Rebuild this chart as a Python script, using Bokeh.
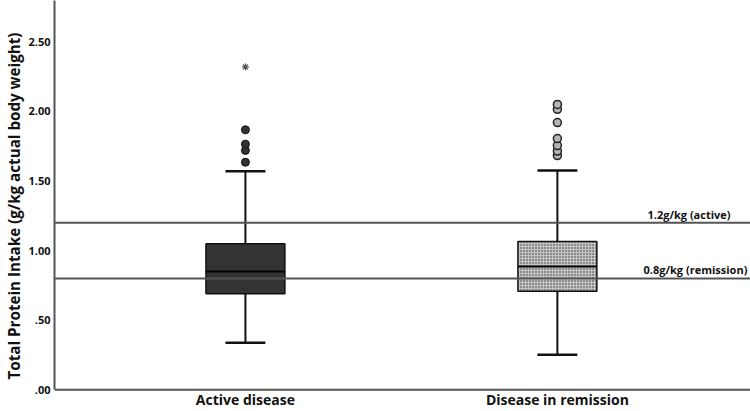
from bokeh.plotting import figure
from bokeh.models import Range1d, FixedTicker, Span
from bokeh.core.properties import value
from bokeh.embed import file_html
from bokeh.resources import INLINE

# ---- data ----
categories = ["Active disease", "Disease in remission"]
positions = [1, 2]
q1 = [0.69, 0.708]
medians = [0.85, 0.886]
q3 = [1.049, 1.066]
lower_whisker = [0.338, 0.251]
upper_whisker = [1.57, 1.575]
outliers_active = [1.635, 1.72, 1.765, 1.868]
extremes_active = [2.32]
outliers_remission = [1.683, 1.715, 1.755, 1.805, 1.92, 2.015, 2.05]
y_ticks = [0, 0.5, 1.0, 1.5, 2.0, 2.5]
y_tick_labels = [".00", ".50", "1.00", "1.50", "2.00", "2.50"]
ref_values = [1.2, 0.8]
ref_labels = ["1.2g/kg (active)", "0.8g/kg (remission)"]

FONT = "Open Sans"
BOX_W = 0.253
CAP_W = 0.128
Y_TOP = 2.797
Y_BOTTOM = -0.156

p = figure(width=750, height=411, output_backend="svg", toolbar_location=None,
           x_axis_location=None,
           x_range=Range1d(0.388, 2.619), y_range=Range1d(Y_BOTTOM, Y_TOP),
           min_border_left=54, min_border_right=0, min_border_top=0, min_border_bottom=0)
p.outline_line_color = None
p.xgrid.visible = False
p.ygrid.visible = False
p.background_fill_color = "white"

# boxes
p.vbar(x=[positions[0]], top=[q3[0]], bottom=[q1[0]], width=BOX_W,
       fill_color="#333333", line_color="#111111", line_width=1.5)
p.vbar(x=[positions[1]], top=[q3[1]], bottom=[q1[1]], width=BOX_W,
       fill_color="#c4c4c4", line_color="#111111", line_width=1.5,
       hatch_pattern="dot", hatch_scale=3, hatch_color="#333333", hatch_weight=1.5)

# medians
p.segment(x0=[x - BOX_W / 2 for x in positions], y0=medians,
          x1=[x + BOX_W / 2 for x in positions], y1=medians,
          line_color="#000000", line_width=2)

# whiskers
p.segment(x0=positions, y0=q3, x1=positions, y1=upper_whisker, line_color="#111111", line_width=2)
p.segment(x0=positions, y0=q1, x1=positions, y1=lower_whisker, line_color="#111111", line_width=2)
p.segment(x0=[x - CAP_W / 2 for x in positions], y0=upper_whisker,
          x1=[x + CAP_W / 2 for x in positions], y1=upper_whisker, line_color="#111111", line_width=2.5)
p.segment(x0=[x - CAP_W / 2 for x in positions], y0=lower_whisker,
          x1=[x + CAP_W / 2 for x in positions], y1=lower_whisker, line_color="#111111", line_width=2.5)

# reference lines and x baseline
for v in ref_values:
    p.add_layout(Span(location=v, dimension="width", line_color="#555555", line_width=2))
p.add_layout(Span(location=0, dimension="width", line_color="#555555", line_width=2))

# outliers
p.scatter(x=[positions[0]] * len(outliers_active), y=outliers_active, size=8,
          fill_color="#333333", line_color="#111111", line_width=1)
p.scatter(x=[positions[1]] * len(outliers_remission), y=outliers_remission, size=8,
          fill_color="#b5b5b5", line_color="#222222", line_width=1.5)
p.scatter(x=[positions[0]] * len(extremes_active), y=extremes_active, size=7,
          marker="asterisk", line_color="#555555", line_width=1.2)

# reference labels
p.text(x=[2.555, 2.609], y=ref_values, text=ref_labels, text_align="right",
       text_baseline="bottom", y_offset=-1, text_font=value(FONT), text_font_style="bold",
       text_font_size="11px", text_color="#111111")

# category labels under the x baseline
p.text(x=positions, y=[0] * len(positions), text=categories, text_align="center",
       text_baseline="alphabetic", y_offset=10, text_font=value(FONT), text_font_style="bold",
       text_font_size="14px", text_color="#111111")

# y axis
yax = p.yaxis[0]
yax.bounds = (0, Y_TOP)
yax.major_tick_line_color = None
yax.minor_tick_line_color = None
yax.major_tick_out = 0
yax.major_tick_in = 0
yax.minor_tick_out = 0
yax.minor_tick_in = 0
yax.axis_line_color = "#555555"
yax.axis_line_width = 2
yax.ticker = FixedTicker(ticks=y_ticks)
yax.major_label_overrides = {t: lab for t, lab in zip(y_ticks, y_tick_labels)}
yax.major_label_standoff = 4
yax.major_label_text_font = FONT
yax.major_label_text_font_style = "bold"
yax.major_label_text_font_size = "11px"
yax.major_label_text_color = "#111111"
yax.axis_label = "Total Protein Intake (g/kg actual body weight)"
yax.axis_label_text_font = FONT
yax.axis_label_text_font_style = "bold"
yax.axis_label_text_font_size = "15.2px"
yax.axis_label_text_color = "#111111"
yax.axis_label_standoff = 1

open("out.html", "w").write(file_html(p, INLINE))
